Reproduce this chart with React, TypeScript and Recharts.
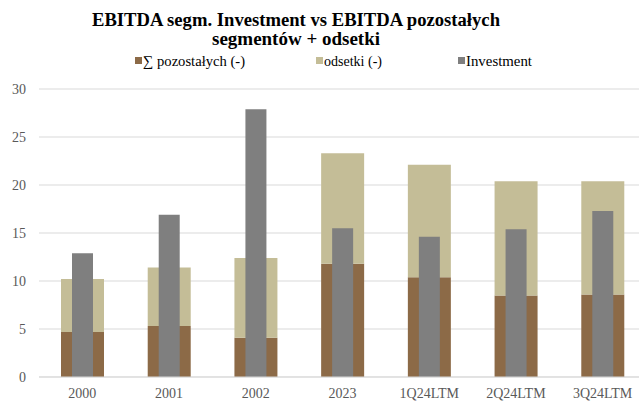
import React from "react";
import { BarChart, Bar, XAxis, YAxis, CartesianGrid } from "recharts";

const categories = ["2000", "2001", "2002", "2023", "1Q24LTM", "2Q24LTM", "3Q24LTM"];
const pozostalych = [4.7, 5.3, 4.1, 11.8, 10.4, 8.5, 8.6];
const odsetki = [5.5, 6.1, 8.3, 11.5, 11.7, 11.9, 11.8];
const investment = [12.9, 16.9, 27.9, 15.5, 14.6, 15.4, 17.3];
const yTicks = [0, 5, 10, 15, 20, 25, 30];
const titleLines = ["EBITDA segm. Investment vs EBITDA pozostałych", "segmentów + odsetki"];

const data = categories.map((c, i) => ({
  cat: c,
  poz: pozostalych[i],
  ods: odsetki[i],
  inv: investment[i],
}));

const BROWN = "#8C6A47";
const TAN = "#C4BD97";
const GRAY = "#7F7F7F";
const FONT = "Liberation Serif, Times New Roman, serif";

const legendItems = [
  { label: "∑ pozostałych (-)", color: BROWN, x: 135, w: 102 },
  { label: "odsetki (-)", color: TAN, x: 316, w: 58 },
  { label: "Investment", color: GRAY, x: 458, w: 66 },
];

export default function App() {
  return (
    <div style={{ position: "absolute", left: 0, top: 0, width: 639, height: 403, overflow: "hidden", background: "#fff" }}>
      <div style={{ position: "absolute", left: 0, top: 0 }}>
        <BarChart width={646} height={403} data={data} margin={{ top: 89, right: 0, left: 0, bottom: 0 }} barGap={0} style={{ fontFamily: FONT }}>
          <CartesianGrid vertical={false} stroke="#D9D9D9" />
          <XAxis
            xAxisId="a"
            dataKey="cat"
            height={26}
            tickLine={false}
            tickSize={0}
            tickMargin={11}
            axisLine={{ stroke: "#D9D9D9" }}
            tick={{ fill: "#595959", fontSize: 14, fontFamily: FONT }}
            interval={0}
          />
          <XAxis xAxisId="b" dataKey="cat" hide />
          <YAxis
            width={39}
            domain={[0, 30]}
            ticks={yTicks}
            axisLine={false}
            tickLine={false}
            tickSize={0}
            tickMargin={13}
            tick={{ fill: "#595959", fontSize: 14, fontFamily: FONT }}
          />
          <Bar xAxisId="a" dataKey="poz" stackId="s" fill={BROWN} barSize={43} isAnimationActive={false} />
          <Bar xAxisId="a" dataKey="ods" stackId="s" fill={TAN} barSize={43} isAnimationActive={false} />
          <Bar xAxisId="b" dataKey="inv" fill={GRAY} barSize={21} isAnimationActive={false} />
        </BarChart>
      </div>
      <svg width={639} height={80} style={{ position: "absolute", left: 0, top: 0 }} fontFamily={FONT}>
        <text x={296} y={26} textAnchor="middle" fontSize={18} fontWeight="bold" fill="#000" textLength={408} lengthAdjust="spacingAndGlyphs">
          {titleLines[0]}
        </text>
        <text x={296} y={45} textAnchor="middle" fontSize={18} fontWeight="bold" fill="#000" textLength={168} lengthAdjust="spacingAndGlyphs">
          {titleLines[1]}
        </text>
        {legendItems.map((it) => (
          <g key={it.label}>
            <rect x={it.x} y={57} width={7} height={7} fill={it.color} />
            <text x={it.x + 8} y={65.5} fontSize={14.5} fill="#000" textLength={it.w} lengthAdjust="spacingAndGlyphs">
              {it.label}
            </text>
          </g>
        ))}
      </svg>
    </div>
  );
}
